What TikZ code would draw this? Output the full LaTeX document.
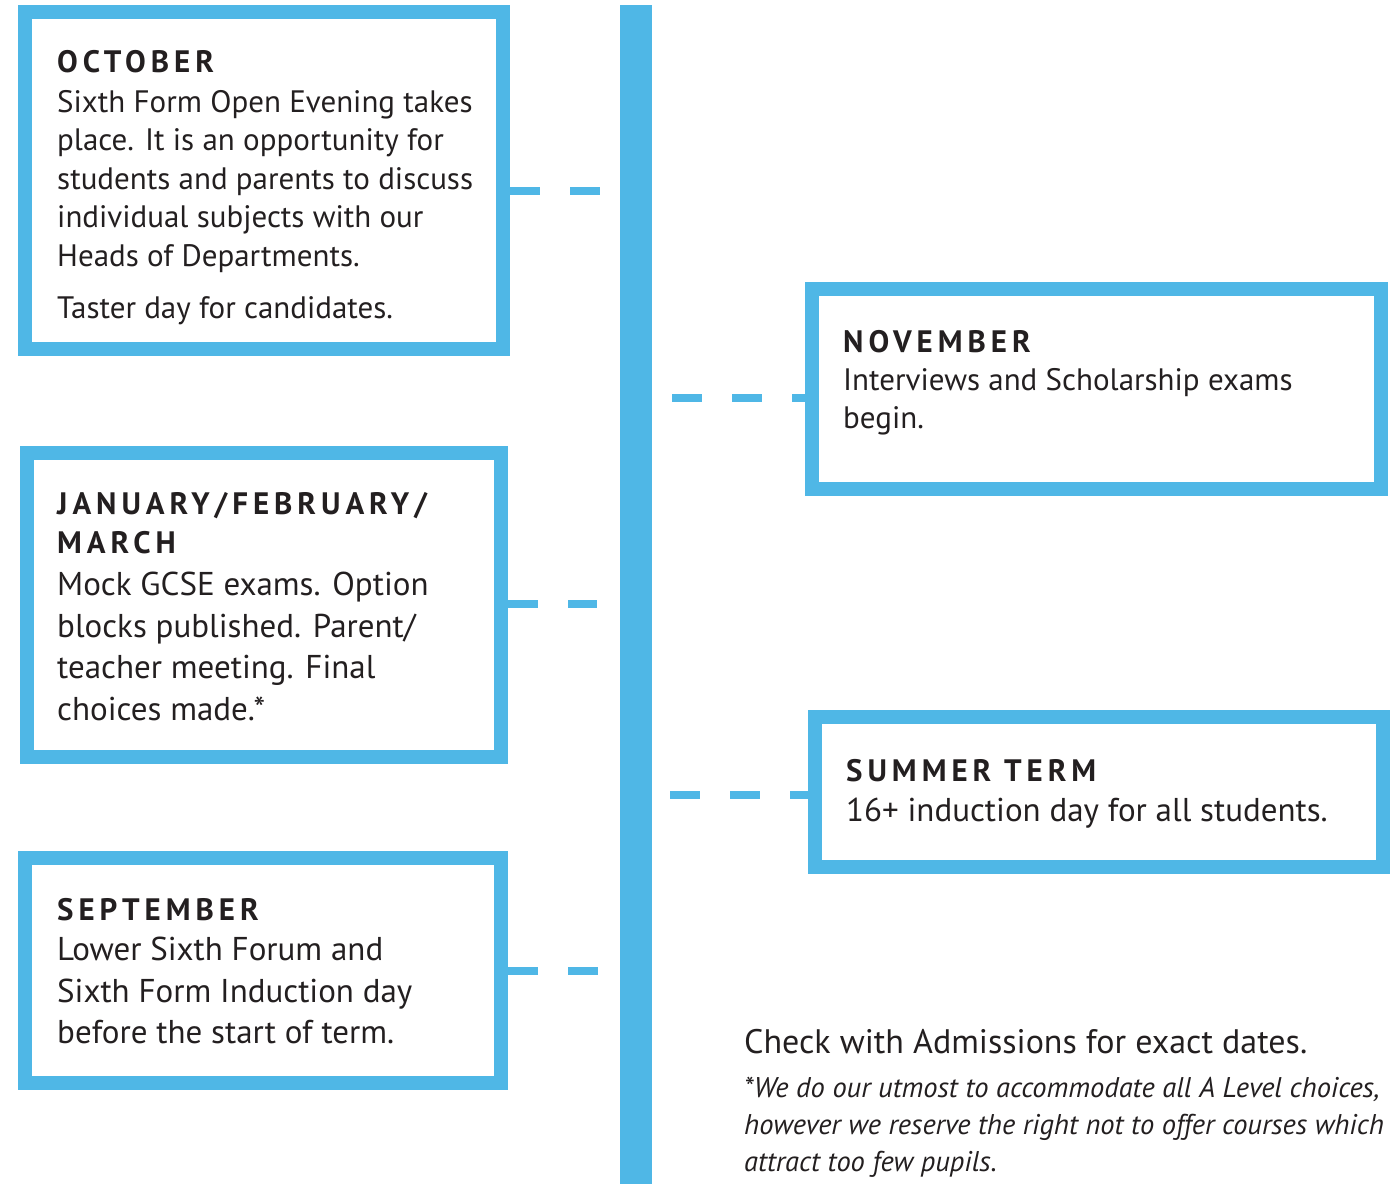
\documentclass[tikz,border=0pt]{standalone}
\usepackage{fontspec}
\setmainfont{PT Sans}
\newfontfamily\headfont{PT Sans}[LetterSpace=16]
\definecolor{tlblue}{HTML}{4FB7E6}
\definecolor{ink}{HTML}{231F20}
\newcommand{\topst}{\rule{0pt}{30pt}}
\tikzset{
  box/.style={draw=tlblue, line width=13.5pt, inner sep=0pt, outer sep=0pt, anchor=north west},
  conn/.style={draw=tlblue, line width=8pt, dash pattern=on 30pt off 30pt},
  head/.style={anchor=base west, inner sep=0pt, text=ink, font=\headfont\bfseries\fontsize{31}{39}\selectfont},
  headml/.style={anchor=north west, inner sep=0pt, align=left, text=ink, font=\headfont\bfseries\fontsize{31}{39}\selectfont},
  bodyA/.style={anchor=north west, inner sep=0pt, align=left, text=ink, font=\fontsize{31}{38.5}\selectfont},
  bodyB/.style={anchor=north west, inner sep=0pt, align=left, text=ink, font=\fontsize{33}{41.8}\selectfont},
  bodyBl/.style={anchor=base west, inner sep=0pt, text=ink, font=\fontsize{33}{41.8}\selectfont},
  foot/.style={anchor=base west, inner sep=0pt, text=ink, font=\fontsize{34}{41.8}\selectfont},
  note/.style={anchor=north west, inner sep=0pt, align=left, text=ink, font=\itshape\fontsize{28.5}{37}\selectfont},
}
\begin{document}
\begin{tikzpicture}[x=1pt,y=-1pt]
\useasboundingbox (0,0) rectangle (1398,1184);
% timeline
\node[fill=tlblue, inner sep=0pt, outer sep=0pt, minimum width=32pt, minimum height=1179pt, anchor=north west] (tl) at (620,5) {};
% connector end points
\coordinate (c1) at (600,191);
\coordinate (c2) at (672,398);
\coordinate (c3) at (597,604);
\coordinate (c4) at (670,795);
\coordinate (c5) at (600,971);
% boxes
\node[box, minimum width=478pt, minimum height=337pt] (b1) at (25,12) {};
\node[box, minimum width=569pt, minimum height=200pt] (b2) at (812,289) {};
\node[box, minimum width=474pt, minimum height=304pt] (b3) at (27,453) {};
\node[box, minimum width=568pt, minimum height=150pt] (b4) at (815,717) {};
\node[box, minimum width=476pt, minimum height=225pt] (b5) at (25,858) {};
% connectors
\draw[conn] ([xshift=7pt]b1.east |- c1) -- (c1);
\draw[conn] (c2) -- (b2.west |- c2);
\draw[conn] ([xshift=7pt]b3.east |- c3) -- (c3);
\draw[conn] (c4) -- (b4.west |- c4);
\draw[conn] ([xshift=7pt]b5.east |- c5) -- (c5);
% texts
\node[head] (h1) at (57,72) {OCTOBER};
\node[bodyA] (t1) at (57,82) {\topst Sixth Form Open Evening takes\\ place. It is an opportunity for\\ students and parents to discuss\\ individual subjects with our\\ Heads of Departments.\\[13.5pt] Taster day for candidates.};
\node[head] (h2) at (843,352) {NOVEMBER};
\node[bodyA] (t2) at (843,360) {\topst Interviews and Scholarship exams\\ begin.};
\node[headml] (h3) at (57,484) {\topst JANUARY/FEBRUARY/\\ MARCH};
\node[bodyB] (t3) at (57,565) {\topst Mock GCSE exams. Option\\ blocks published. Parent/\\ teacher meeting. Final\\ choices made.*};
\node[head] (h4) at (846,781) {SUMMER TERM};
\node[bodyBl] (t4) at (846,821) {16+ induction day for all students.};
\node[head] (h5) at (57,920) {SEPTEMBER};
\node[bodyB] (t5) at (57,930) {\topst Lower Sixth Forum and\\ Sixth Form Induction day\\ before the start of term.};
\node[foot] (f1) at (744,1053) {Check with Admissions for exact dates.};
\node[note] (f2) at (744,1067) {\topst *We do our utmost to accommodate all A Level choices,\\ however we reserve the right not to offer courses which\\ attract too few pupils.};
\end{tikzpicture}
\end{document}
